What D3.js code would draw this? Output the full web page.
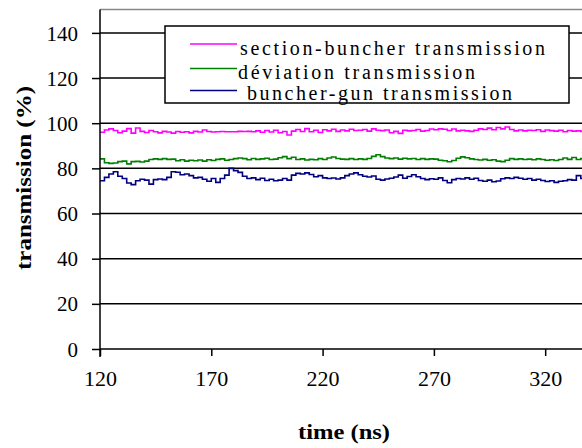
<!DOCTYPE html>
<html><head><meta charset="utf-8">
<script src="https://cdn.jsdelivr.net/npm/d3@7"></script>
<style>html,body{margin:0;padding:0;background:#fff;overflow:hidden}</style>
</head><body>
<svg id="chart" width="582" height="448"></svg>
<script>
// ---- data ----
const startTime = 120, timeStep = 2;
const sectionBuncher = [96,97,97.5,96.8,95.8,96.5,97.6,95.6,97.9,96.4,95.9,96.8,96.2,95.7,96.4,96.1,95.6,96.3,96,96.2,95.7,96.4,96.1,97,96.3,96.1,96.2,96.3,96.2,96.2,96.2,96.4,96.3,96.4,96.2,96.6,96,96.8,96.1,96.9,95.8,96.3,94.8,96.5,97.2,96.3,97.6,96.2,96.9,95.9,97.1,96.6,97.3,96.4,97,96.6,97.3,96.8,96.9,97.2,96.5,97.5,96.9,96.7,97,95.8,96.4,95.5,96.9,96.6,96.8,97.2,96.5,96.8,97.4,97.1,97.5,97.3,96.8,97.4,96.6,96.9,96.6,96.4,96.9,97.5,97.2,97.8,97.1,98.1,97.5,98.3,97.2,96.6,97,96.6,96.9,96.8,97.1,96.4,97,96.7,96.5,96.9,96.2,96.8,96.5,96.6,96.3,96.8];
const deviation = [84.2,82.5,82.2,82.4,83,83.2,82,83,83.1,82.8,83.2,83.9,84.2,84,84.3,84,84.1,83.4,83.8,83.2,83.6,83.4,83.7,83.2,83.8,83.5,84,84.2,83.6,83.9,84.3,84.6,84.3,83.8,84.4,84,84.2,84.5,83.9,84.1,84.7,85.2,84.3,84.9,83.9,84.2,83.7,84,83.8,84.3,83.9,84.6,85,84.4,84.1,84,84.3,83.9,84.2,84,84.4,85.3,86,85.2,84.6,84.3,84.6,84.1,84.5,84.2,84.4,83.9,84.3,84,84.2,84.1,83.6,83.4,82.9,83.5,84.5,85.1,84.7,84.2,83.9,83.7,84,83.6,83.8,83.2,83,83.6,84.3,84,84.2,83.9,84.1,83.8,84.2,83.9,83.6,83.8,83.5,83.9,84.6,84,84.8,83.9,84.4,84.2];
const buncherGun = [74.5,76,77.5,78.5,76.5,75.5,73.5,72.8,74.5,75.2,74.8,73,75,75.3,75,76,78.5,78.3,77.2,77.5,76.8,75.8,76,75.2,74.3,75.5,73.8,75.5,77,80,79,78.2,76.5,75.5,75.8,75,75.6,74.6,75.2,74.5,74.8,75.5,74.8,77,77.8,77.5,78,77.3,76.3,76.8,75.8,75.5,75.7,75.3,75.8,76.8,77.5,78,77.2,76.5,76.2,76.6,75.2,74.8,75.3,75.6,76.2,77,75.6,76.4,77.2,76.3,75.5,75,75.4,75.2,75.8,74.6,73.6,75,75.5,75.3,75.8,75.2,75.6,74.6,74.3,74.8,74.1,74.4,75.4,75.8,75.5,76,75.6,75.2,75.5,74.8,75.2,74.6,74.2,74.5,73.8,74.3,74.5,75,74.8,76.8,75.5,75.2];
const seriesNames = ["section-buncher transmission", "déviation transmission", " buncher-gun transmission"];
const seriesColors = ["#ff00ff", "#008000", "#000080"];
const xTicks = [120,170,220,270,320];
const yTicks = [0,20,40,60,80,100,120,140];
const xTitle = "time (ns)";
const yTitle = "transmission (%)";

// ---- layout ----
const svg = d3.select("#chart");
const L = 100, R = 589.7, T = 9.5, B = 349;
const x = d3.scaleLinear().domain([120, 340]).range([L, R]);
const y = d3.scaleLinear().domain([0, 150]).range([B, T + 0.8]);

const serif = "'Liberation Serif','Times New Roman',serif";

// plot border (top)
svg.append("line").attr("x1", L).attr("x2", 582).attr("y1", T).attr("y2", T)
  .attr("stroke", "#888").attr("stroke-width", 1.5);

// gridlines
svg.append("g").selectAll("line").data(yTicks.filter(d => d > 0)).join("line")
  .attr("x1", L).attr("x2", 582).attr("y1", d => y(d)).attr("y2", d => y(d))
  .attr("stroke", "#000").attr("stroke-width", 1.5);

// series
const series = [sectionBuncher, deviation, buncherGun];
const line = d3.line().x((d, i) => x(startTime + i * timeStep)).y(d => y(d)).curve(d3.curveStepAfter);
svg.append("defs").append("clipPath").attr("id", "clip").append("rect")
  .attr("x", L).attr("y", T).attr("width", R - L).attr("height", B - T);
svg.append("g").attr("clip-path", "url(#clip)").selectAll("path").data(series).join("path")
  .attr("d", line).attr("fill", "none").attr("stroke", (d, i) => seriesColors[i])
  .attr("stroke-width", 1.6);

// y axis
const yAxis = svg.append("g").attr("transform", `translate(${L},0)`)
  .call(d3.axisLeft(y).tickValues(yTicks).tickSize(8).tickPadding(14).tickFormat(d3.format("d")));
yAxis.select(".domain").attr("d", `M0,${T}V${B + 8}`).attr("stroke", "#000").attr("stroke-width", 1.5);
yAxis.selectAll(".tick line").attr("stroke", "#000").attr("stroke-width", 1.5);
yAxis.selectAll(".tick text").attr("font-family", serif).attr("font-size", 21).attr("fill", "#000")
  .attr("dy", "0.34em");

// x axis
const xAxis = svg.append("g").attr("transform", `translate(0,${B})`)
  .call(d3.axisBottom(x).tickValues(xTicks).tickSize(7).tickPadding(14).tickFormat(d3.format("d")));
xAxis.select(".domain").attr("d", `M${L},0H582`).attr("stroke", "#000").attr("stroke-width", 1.5);
xAxis.selectAll(".tick line").attr("stroke", "#000").attr("stroke-width", 1.5);
xAxis.selectAll(".tick text").attr("font-family", serif).attr("font-size", 22).attr("fill", "#000");

// titles
svg.append("text").attr("x", 344).attr("y", 439).attr("text-anchor", "middle")
  .attr("font-family", serif).attr("font-weight", "bold").attr("font-size", 21)
  .attr("textLength", 92).attr("lengthAdjust", "spacingAndGlyphs").text(xTitle);
svg.append("text").attr("transform", "translate(31,178) rotate(-90)").attr("text-anchor", "middle")
  .attr("font-family", serif).attr("font-weight", "bold").attr("font-size", 20)
  .attr("textLength", 184).attr("lengthAdjust", "spacingAndGlyphs").text(yTitle);

// legend
const lg = svg.append("g");
lg.append("rect").attr("x", 165).attr("y", 26).attr("width", 404).attr("height", 77)
  .attr("fill", "#fff").attr("stroke", "#000").attr("stroke-width", 1.5);
const rowsY = [44, 68.5, 90.5];
const textX = [240, 238, 247];
const textW = [305, 237, 265];
const rowBase = [55, 79, 100];
seriesNames.forEach((name, i) => {
  lg.append("line").attr("x1", 190).attr("x2", 237).attr("y1", rowsY[i]).attr("y2", rowsY[i])
    .attr("stroke", seriesColors[i]).attr("stroke-width", 1.5);
  lg.append("text").attr("x", textX[i]).attr("y", rowBase[i])
    .attr("font-family", serif).attr("font-size", 20).attr("fill", "#000")
    .attr("textLength", textW[i]).attr("lengthAdjust", "spacing").text(name.trim());
});
</script>
</body></html>
